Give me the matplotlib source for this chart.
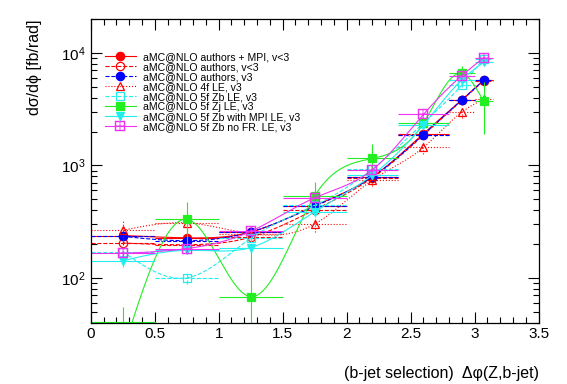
import numpy as np
import matplotlib
matplotlib.use('Agg')
import matplotlib.pyplot as plt
from matplotlib.lines import Line2D
from matplotlib.ticker import MultipleLocator, LogLocator, FuncFormatter, NullFormatter

plt.rcParams['font.family'] = ['Liberation Sans', 'DejaVu Sans']
plt.rcParams['mathtext.fontset'] = 'custom'
plt.rcParams['mathtext.rm'] = 'Liberation Sans'
plt.rcParams['mathtext.it'] = 'Liberation Sans:italic'

# bins in delta phi
x = [0.25, 0.75, 1.25, 1.75, 2.2, 2.6, 2.9, 3.07]
xerr = [0.25, 0.25, 0.25, 0.25, 0.2, 0.2, 0.1, 0.07]

# series (fb/rad)
authors_mpi = [238, 227, 255, 438, 790, 1920, 3830, 5750]
authors_mpi_err = [10, 10, 11, 18, 30, 60, 110, 160]
authors_old = [204, 197, 230, 403, 775, 1860, 3800, 5650]
authors_old_err = [10, 9, 11, 17, 30, 60, 110, 160]
authors_v3 = [234, 214, 256, 432, 790, 1884, 3830, 5700]
authors_v3_err = [10, 10, 11, 18, 30, 60, 110, 160]
lo4f = [265, 308, 247, 301, 740, 1446, 2985, 3900]
lo4f_err = [60, 45, 35, 45, 90, 180, 330, 420]
zb5 = [171, 100, 225, 441, 925, 2380, 5200, 8900]
zb5_err = [12, 12, 15, 25, 45, 110, 250, 400]
zj5 = [22, 332, 68, 535, 1153, 2380, 6580, 3720]
zj5_err_lo = [20, 140, 60, 170, 400, 300, 1100, 1800]
zj5_err_hi = [33, 140, 120, 170, 400, 300, 1100, 1800]
zb5_mpi = [142, 176, 186, 388, 820, 2300, 5780, 8260]
zb5_mpi_err = [17, 14, 15, 25, 45, 110, 250, 400]
zb5_nofr = [165, 182, 259, 515, 913, 2843, 6300, 9060]
zb5_nofr_err = [8, 8, 10, 20, 35, 90, 200, 300]

labels = ['aMC@NLO authors + MPI, v<3',
          'aMC@NLO authors, v<3',
          'aMC@NLO authors, v3',
          'aMC@NLO 4f LE, v3',
          'aMC@NLO 5f Zb LE, v3',
          'aMC@NLO 5f Zj LE, v3',
          'aMC@NLO 5f Zb with MPI LE, v3',
          'aMC@NLO 5f Zb no FR. LE, v3']

ymin, ymax = 40, 2.0e4


def smooth(xs, ys, n=400):
    # natural cubic spline through the points, in log y (like ROOT option "C")
    xs = np.asarray(xs, float)
    ly = np.log10(np.asarray(ys, float))
    m = len(xs)
    h = np.diff(xs)
    A = np.zeros((m, m))
    r = np.zeros(m)
    A[0, 0] = 1
    A[-1, -1] = 1
    for i in range(1, m - 1):
        A[i, i - 1] = h[i - 1]
        A[i, i] = 2 * (h[i - 1] + h[i])
        A[i, i + 1] = h[i]
        r[i] = 6 * ((ly[i + 1] - ly[i]) / h[i] - (ly[i] - ly[i - 1]) / h[i - 1])
    M = np.linalg.solve(A, r)
    xx = np.linspace(xs[0], xs[-1], n)
    k = np.clip(np.searchsorted(xs, xx) - 1, 0, m - 2)
    t0 = xs[k + 1] - xx
    t1 = xx - xs[k]
    hk = h[k]
    yy = (M[k] * t0**3 + M[k + 1] * t1**3) / (6 * hk) \
        + (ly[k] / hk - M[k] * hk / 6) * t0 + (ly[k + 1] / hk - M[k + 1] * hk / 6) * t1
    return xx, 10**yy


fig = plt.figure(figsize=(5.67, 3.84), dpi=100)
ax = fig.add_axes([0.16, 0.16, 0.79, 0.79])

series = [
    (authors_mpi, authors_mpi_err, authors_mpi_err, '#ff0000', '-', 'o', True),
    (authors_old, authors_old_err, authors_old_err, '#ff0000', '--', 'o', False),
    (authors_v3, authors_v3_err, authors_v3_err, '#0000ff', '--', 'o', True),
    (lo4f, lo4f_err, lo4f_err, '#ff0000', ':', '^', False),
    (zb5, zb5_err, zb5_err, '#22eeee', '--', 's', False),
    (zj5, zj5_err_lo, zj5_err_hi, '#22ee22', '-', 's', True),
    (zb5_mpi, zb5_mpi_err, zb5_mpi_err, '#22eeee', '-', 'v', True),
    (zb5_nofr, zb5_nofr_err, zb5_nofr_err, '#ee33ee', '-', r'$\boxplus$', False),
]

handles = []
for vals, elo, ehi, col, ls, mk, filled in series:
    xx, yy = smooth(x, vals)
    ax.plot(xx, yy, color=col, ls=ls, lw=0.8)
    eb = ax.errorbar(x, vals, xerr=xerr, yerr=[elo, ehi], fmt='none',
                     ecolor=col, elinewidth=0.8, capsize=0)
    for lc in eb[2]:
        lc.set_linestyle(ls)
    if mk == r'$\boxplus$':
        ax.plot(x, vals, ls='none', marker=mk, ms=6.5, color=col, mew=0.3)
        h = Line2D([], [], color=col, ls=ls, lw=0.8, marker=mk, ms=6.5, mew=0.3)
    else:
        ax.plot(x, vals, ls='none', marker=mk, ms=6, color=col,
                mfc=col if filled else 'none', mec=col, mew=0.9)
        h = Line2D([], [], color=col, ls=ls, lw=0.8, marker=mk, ms=6,
                   mfc=col if filled else 'none', mec=col, mew=0.9)
    handles.append(h)

# green first bin lies below the frame: ROOT draws its x bar on the axis
ax.plot([x[0] - xerr[0], x[0] + xerr[0]], [ymin * 1.01, ymin * 1.01],
        color='#22ee22', lw=0.8)

ax.set_xlim(0, 3.5)
ax.set_yscale('log')
ax.set_ylim(ymin, ymax)

ax.xaxis.set_major_locator(MultipleLocator(0.5))
ax.xaxis.set_minor_locator(MultipleLocator(0.1))
ax.xaxis.set_major_formatter(FuncFormatter(lambda v, p: '%g' % v))
ax.yaxis.set_major_locator(LogLocator(base=10))
ax.yaxis.set_minor_locator(LogLocator(base=10, subs=np.arange(2, 10)))
ax.yaxis.set_minor_formatter(NullFormatter())
ax.tick_params(which='both', direction='in', top=True, right=True,
               labelsize=11, width=0.8)
ax.tick_params(which='major', length=8)
ax.tick_params(which='minor', length=4)
for s in ax.spines.values():
    s.set_linewidth(0.9)

ax.set_xlabel('(b-jet selection)  Δφ(Z,b-jet)', fontsize=11.5,
              loc='right', labelpad=18)
ax.set_ylabel('dσ/dϕ [fb/rad]', fontsize=11.5, loc='top', labelpad=14)

ax.legend(handles, labels, loc='upper left', bbox_to_anchor=(0.031, 0.893),
          frameon=False, fontsize=7.6, handlelength=3.0, handletextpad=0.6,
          labelspacing=0.0, borderpad=0, borderaxespad=0)

fig.savefig('out.png', dpi=100)
